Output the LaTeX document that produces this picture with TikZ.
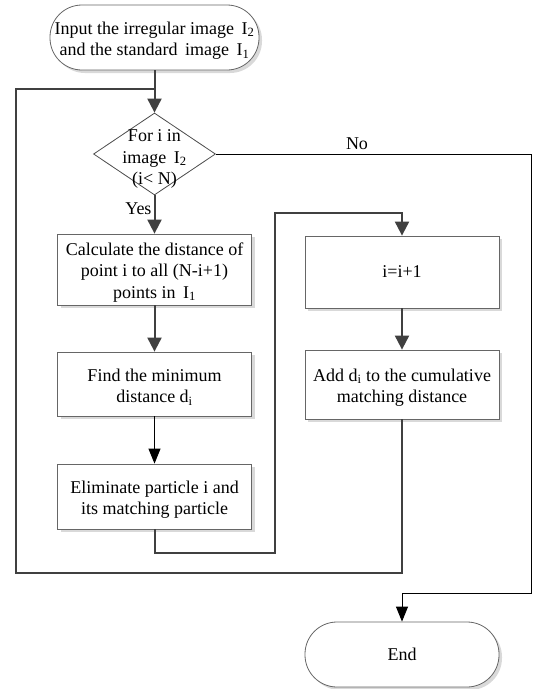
\documentclass[tikz,border=0pt]{standalone}
\usepackage{fontspec}
\setmainfont{Liberation Serif}
\usetikzlibrary{arrows.meta,shapes.geometric,shadows}
\newcommand\tstr{\rule{0pt}{18.5pt}}
\begin{document}
\begin{tikzpicture}[x=1pt,y=-1pt,
  base/.style={font=\fontsize{18}{21.5}\selectfont, align=center, inner sep=0pt},
  box/.style={base, draw=black!60, line width=0.8pt, fill=white,
    drop shadow={shadow xshift=3pt, shadow yshift=-3pt, fill=black!15, opacity=1}},
  proc/.style={box, minimum width=194pt},
  term/.style={box, rounded corners=32pt, minimum height=65pt},
  dia/.style={draw=black!70, line width=0.8pt, fill=white, shape=diamond, inner sep=0pt, minimum width=122pt, minimum height=82pt},
  thickline/.style={draw=black!75, line width=2pt},
  thickflow/.style={thickline, arrows={-Triangle[width=14pt,length=14pt]}},
  thinflow/.style={draw=black, line width=0.9pt, arrows={-Triangle[width=12pt,length=15pt]}},
  lbl/.style={font=\fontsize{18}{21.5}\selectfont, inner sep=0pt}
]
\fill[white] (0,0) rectangle (534,689);
\useasboundingbox (0,0) rectangle (534,689);

\node[term, minimum width=209pt] (start) at (154.5,37.5) {\tstr Input the irregular image\, I\textsubscript{2}\\and the standard\, image\, I\textsubscript{1}};
\node[dia] (cond) at (154.5,154) {};
\node[base] (condtext) at (154.5,159) {For i in\\image\, I\textsubscript{2}\\(i< N)};
\node[proc, minimum height=71pt] (calc) at (154.5,269.5) {\tstr Calculate the distance of\\point i to all (N-i+1)\\points in\, I\textsubscript{1}};
\node[proc, minimum height=64pt] (find) at (154.5,384) {\tstr Find the minimum\\distance d\textsubscript{i}};
\node[proc, minimum height=65pt] (elim) at (154.5,496.5) {\tstr Eliminate particle i and\\its matching particle};
\node[proc, minimum height=72pt] (inc) at (402,272) {i=i+1};
\node[proc, minimum height=69pt] (add) at (402,384.5) {\tstr Add d\textsubscript{i} to the cumulative\\matching distance};
\node[term, minimum width=194pt, minimum height=65pt] (end) at (402,654.5) {End};

\coordinate (join) at (154.5,89);
\coordinate (lt) at (16,89);
\coordinate (lb) at (16,573);
\coordinate (rb) at (402,573);
\coordinate (e1) at (154.5,553);
\coordinate (e2) at (275,553);
\coordinate (e3) at (275,213);
\coordinate (e4) at (402,213);
\coordinate (n1) at (531,154);
\coordinate (n2) at (531,593);
\coordinate (n3) at (402,593);

\draw[thickline] (add.south) -- (rb) -- (lb) -- (lt) -- (join);
\draw[thickflow] (start.south) -- (cond.north);
\draw[thickflow] (cond.south) -- node[lbl, anchor=east, pos=0.35, xshift=-2pt] (yes) {Yes} (calc.north);
\draw[thickflow] (calc.south) -- (find.north);
\draw[thinflow] (find.south) -- (elim.north);
\draw[thickflow] (elim.south) -- (e1) -- (e2) -- (e3) -- (e4) -- (inc.north);
\draw[thickflow] (inc.south) -- (add.north);
\draw[thinflow] (cond.east) -- (n1) -- (n2) -- (n3) -- (end.north);
\node[lbl] (no) at (357,144) {No};
\end{tikzpicture}
\end{document}
